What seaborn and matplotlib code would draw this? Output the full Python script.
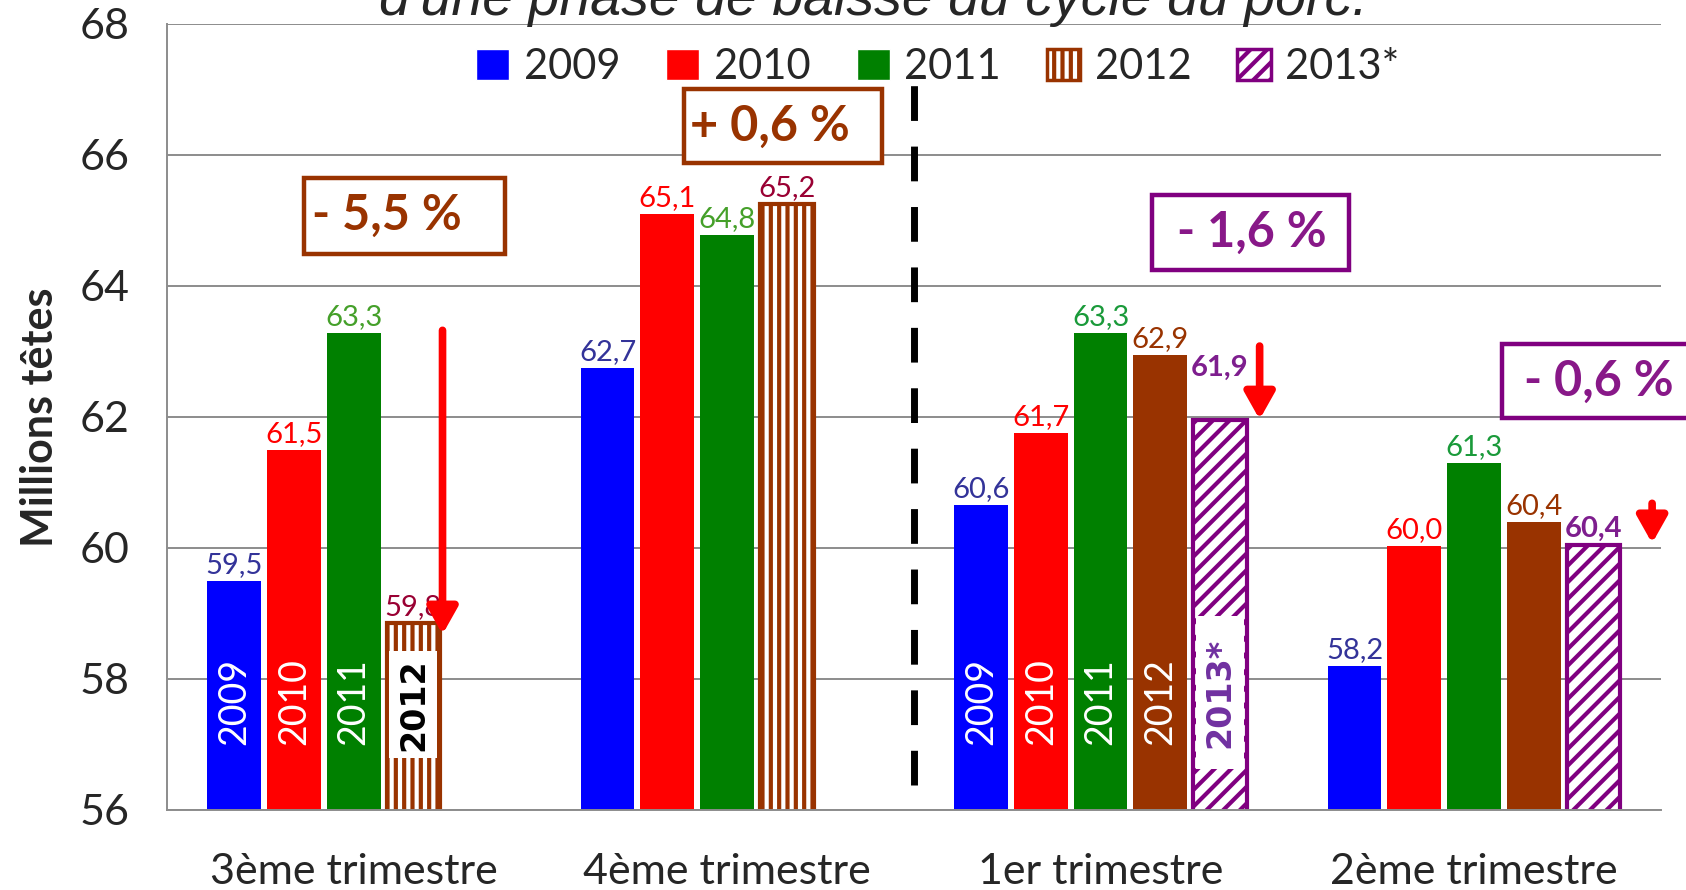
import matplotlib
matplotlib.use('Agg')
import matplotlib.pyplot as plt
import seaborn as sns
import pandas as pd
from matplotlib.patches import Patch, Rectangle

# ---------------- data ----------------
trimestres = ['3ème trimestre', '4ème trimestre', '1er trimestre', '2ème trimestre']
annees = ['2009', '2010', '2011', '2012', '2013*']
v2009 = [59.5, 62.75, 60.65, 58.2]
v2010 = [61.5, 65.1, 61.75, 60.03]
v2011 = [63.28, 64.78, 63.28, 61.3]
v2012 = [58.85, 65.25, 62.95, 60.4]
v2013 = [None, None, 61.95, 60.05]
lab2009 = ['59,5', '62,7', '60,6', '58,2']
lab2010 = ['61,5', '65,1', '61,7', '60,0']
lab2011 = ['63,3', '64,8', '63,3', '61,3']
lab2012 = ['59,8', '65,2', '62,9', '60,4']
lab2013 = [None, None, '61,9', '60,4']
variations = ['- 5,5 %', '+ 0,6 %', '- 1,6 %', '- 0,6 %']
titre = "d'une phase de baisse du cycle du porc."

values = [v2009, v2010, v2011, v2012, v2013]
labels = [lab2009, lab2010, lab2011, lab2012, lab2013]
rows = []
for a, vals in zip(annees, values):
    for t, v in zip(trimestres, vals):
        if v is not None:
            rows.append({'trimestre': t, 'annee': a, 'valeur': v})
df = pd.DataFrame(rows)

BLUE, RED, GREEN, BROWN, PURPLE = '#0000FF', '#FF0000', '#008000', '#993300', '#800080'
palette = dict(zip(annees, [BLUE, RED, GREEN, BROWN, PURPLE]))

sns.set_style('white')
plt.rcParams['font.family'] = ['Lato', 'DejaVu Sans']
plt.rcParams['hatch.linewidth'] = 3.0

fig = plt.figure(figsize=(16.86, 8.9), dpi=100)
ax = fig.add_axes([0.099, 0.0899, 0.886, 0.8835])

sns.barplot(data=df, x='trimestre', y='valeur', hue='annee', order=trimestres,
            hue_order=annees, palette=palette, width=0.8, gap=0.1, linewidth=0,
            saturation=1, ax=ax, legend=False, errorbar=None)

ax.set_ylim(56, 68)
ax.set_xlim(-0.5, 3.5)
ax.set_yticks(range(56, 69, 2))
ax.set_yticklabels([str(v) for v in range(56, 69, 2)], fontsize=31)
ax.yaxis.grid(True, color='#8c8c8c', linewidth=1.4)
ax.set_axisbelow(True)
for s in ['top', 'right']:
    ax.spines[s].set_visible(False)
for s in ['left', 'bottom']:
    ax.spines[s].set_color('#8c8c8c')
    ax.spines[s].set_linewidth(1.4)
ax.tick_params(axis='y', which='major', length=12, color='#8c8c8c', width=1.4, pad=15)
ax.set_xticks(range(4))
ax.set_xticklabels(trimestres, fontsize=31)
ax.tick_params(axis='x', which='major', length=0, pad=31)
ax.set_xticks([-0.5, 0.5, 1.5, 2.5, 3.5], minor=True)
ax.tick_params(axis='x', which='minor', length=16, color='#8c8c8c', width=1.4)
ax.set_xlabel('')
ax.set_ylabel('Millions têtes', fontsize=31, fontweight='bold', labelpad=14)

label_colors = {
    '2009': ['#333399'] * 4,
    '2010': [RED] * 4,
    '2011': ['#45A02A', '#45A02A', '#1A9A3A', '#1A9A3A'],
    '2012': ['#990033', '#990033', BROWN, BROWN],
    '2013*': [None, None, '#7E1E8E', '#7E1E8E'],
}
label_offsets = {('2013*', 2): 28}

for i, cont in enumerate(ax.containers):
    yr = annees[i]
    for bar in cont:
        x0b = bar.get_x()
        wb = bar.get_width()
        cx = x0b + wb / 2
        cat = int(round(cx))
        top = bar.get_height()
        # styling
        if yr == '2012' and cat in (0, 1):
            bar.set_facecolor('white')
            bar.set_edgecolor(BROWN)
            bar.set_hatch('||')
            bar.set_linewidth(3)
        elif yr == '2013*':
            bar.set_facecolor('white')
            bar.set_edgecolor(PURPLE)
            bar.set_hatch('//')
            bar.set_linewidth(3)
        # value label
        txt = labels[i][cat]
        off = label_offsets.get((yr, cat), 2)
        ax.annotate(txt, (cx, top), xytext=(0, off), textcoords='offset points',
                    ha='center', va='bottom', fontsize=21,
                    color=label_colors[yr][cat],
                    fontweight='bold' if yr == '2013*' else 'normal')
        # year label inside bars
        if cat in (0, 2):
            if yr == '2012' and cat == 0:
                ax.add_patch(Rectangle((x0b + 0.008, 56.79), wb - 0.016, 1.63,
                                       facecolor='white', edgecolor='none', zorder=3))
                ax.text(cx, 57.61, yr, rotation=90, ha='center', va='center',
                        fontsize=24, fontweight='bold', color='black',
                        family='DejaVu Sans', zorder=4)
            elif yr == '2013*':
                ax.add_patch(Rectangle((x0b + 0.008, 56.63), wb - 0.016, 2.33,
                                       facecolor='white', edgecolor='none', zorder=3))
                ax.text(cx, 57.78, yr, rotation=90, ha='center', va='center',
                        fontsize=24, fontweight='bold', color='#7030A0',
                        family='DejaVu Sans', zorder=4)
            else:
                ax.text(cx, 57.65, yr, rotation=90, ha='center', va='center',
                        fontsize=27, color='white')

# dashed separator
ax.plot([1.5, 1.5], [56.38, 67.18], color='black', linewidth=5,
        linestyle=(0, (5, 3.7)), solid_capstyle='butt', dash_capstyle='butt')

# red arrows
arrow_kw = dict(arrowstyle='-|>,head_width=0.9,head_length=1.6', color=RED,
                lw=5.5, shrinkA=0, shrinkB=0)
ax.annotate('', xy=(0.238, 58.68), xytext=(0.238, 63.32), arrowprops=arrow_kw)
ax.annotate('', xy=(2.426, 61.96), xytext=(2.426, 63.08), arrowprops=arrow_kw)
ax.annotate('', xy=(3.477, 60.07), xytext=(3.477, 60.68), arrowprops=arrow_kw)

# variation boxes
boxes = [(-0.132, 64.49, 0.536, 1.16, BROWN, '#993300', 0.09, 65.07),
         (0.884, 65.87, 0.530, 1.14, BROWN, '#993300', 1.114, 66.44),
         (2.139, 64.24, 0.526, 1.15, PURPLE, '#881888', 2.405, 64.81),
         (3.074, 61.98, 0.6, 1.13, PURPLE, '#881888', 3.333, 62.54)]
for (x0, y0, w, h, ec, tc, tx, ty), txt in zip(boxes, variations):
    ax.add_patch(Rectangle((x0, y0), w, h, facecolor='white', edgecolor=ec,
                           linewidth=3.2, clip_on=False, zorder=5))
    ax.text(tx, ty, txt, ha='center', va='center', fontsize=35,
            fontweight='bold', color=tc, zorder=6, clip_on=False)

# legend
handles = [Patch(facecolor=BLUE), Patch(facecolor=RED), Patch(facecolor=GREEN),
           Patch(facecolor='white', edgecolor=BROWN, hatch='||', linewidth=2.5),
           Patch(facecolor='white', edgecolor=PURPLE, hatch='//', linewidth=2.5)]
ax.legend(handles, annees, loc='center', bbox_to_anchor=(0.516, 0.945), ncol=5,
          frameon=False, fontsize=30, handlelength=0.8, handleheight=0.8,
          handletextpad=0.35, columnspacing=1.1)

# title (clipped at top)
fig.text(0.518, 0.983, titre, ha='center', va='baseline', fontsize=40,
         style='italic', family='Liberation Sans')

fig.savefig('out.png', dpi=100)
